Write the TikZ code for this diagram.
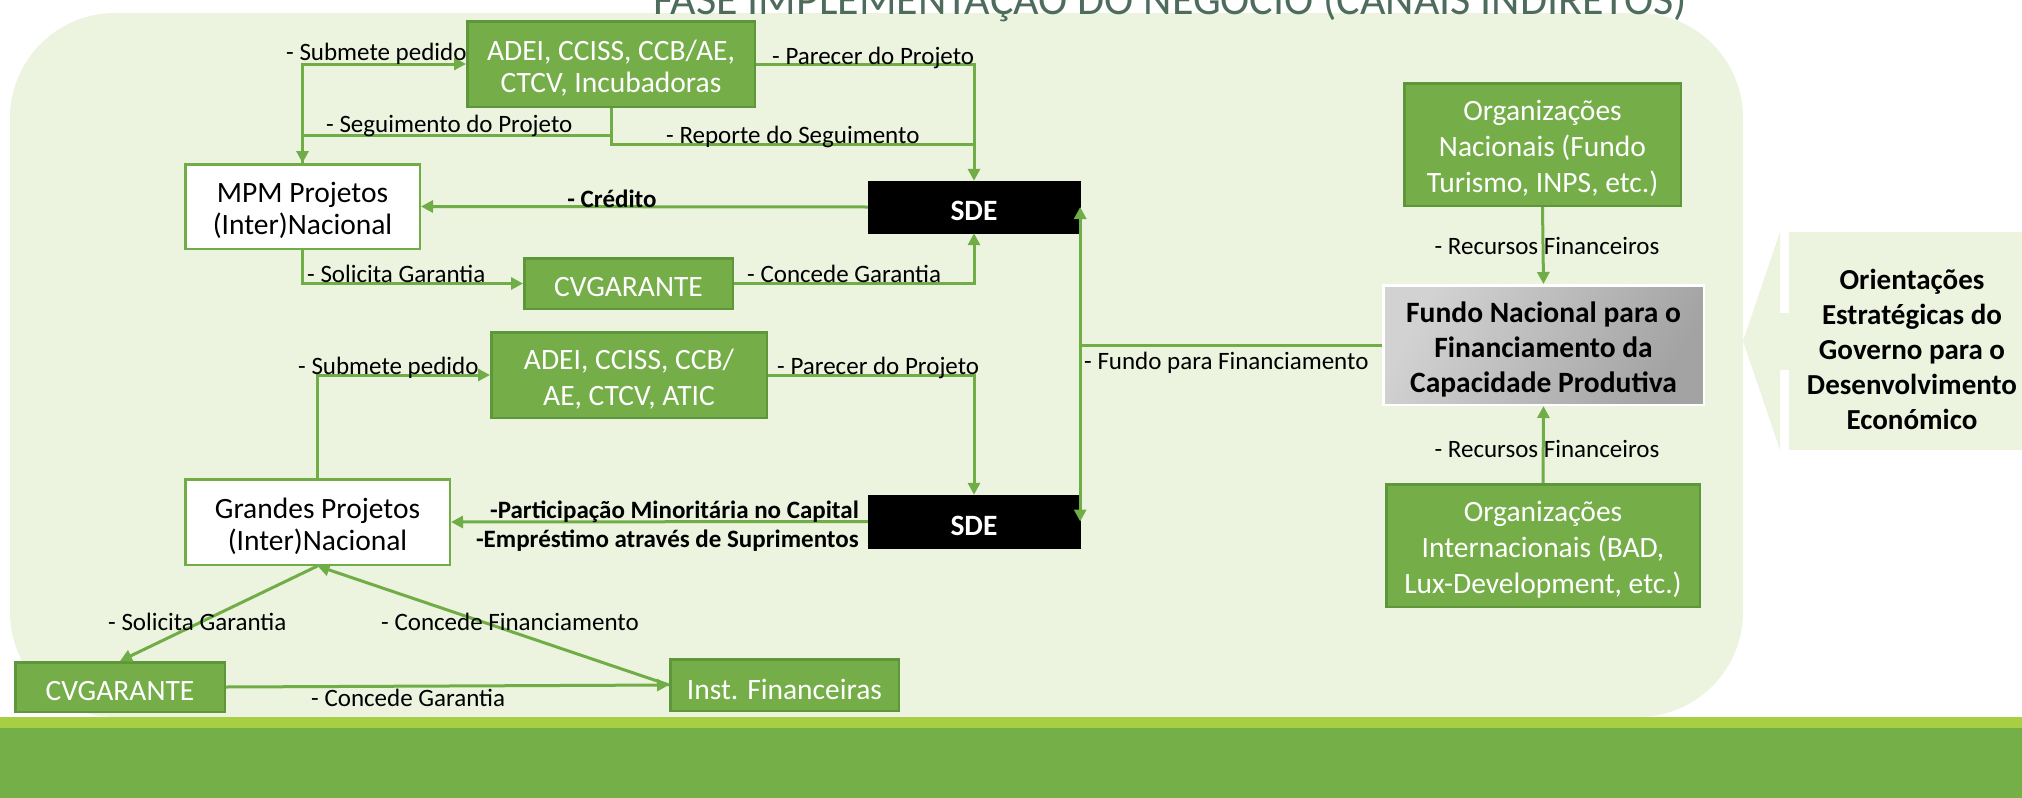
\documentclass[tikz,border=0pt]{standalone}
\usepackage{fontspec}
\setmainfont{Carlito}
\usetikzlibrary{arrows.meta,calc}
\definecolor{bggreen}{RGB}{236,243,223}
\definecolor{boxgreen}{RGB}{117,174,72}
\definecolor{boxedge}{RGB}{94,150,58}
\definecolor{linegreen}{RGB}{112,173,71}
\definecolor{titlecol}{RGB}{78,108,92}
\definecolor{limeband}{RGB}{168,206,68}
\definecolor{bandgreen}{RGB}{116,175,72}
\definecolor{graylight}{RGB}{210,210,210}
\definecolor{graydark}{RGB}{163,163,163}
\newcommand{\lowr}[1]{\raisebox{-4pt}[\height][\depth]{#1}}
\begin{document}
\begin{tikzpicture}[x=1pt,y=-1pt,
  gbox/.style={draw=boxedge, fill=boxgreen, line width=2.5pt, text=white, align=center, inner sep=0pt, font=\fontsize{29.5}{36}\selectfont},
  wbox/.style={draw=linegreen, fill=white, line width=2.5pt, align=center, inner sep=0pt, font=\fontsize{29.5}{32}\selectfont},
  kbox/.style={draw=black, fill=black, text=white, inner sep=0pt, font=\bfseries\fontsize{29.5}{36}\selectfont},
  conn/.style={draw=linegreen, line width=3pt},
  arr/.style={conn, -{Triangle[length=12pt,width=12pt]}},
  lbl/.style={inner sep=0pt, font=\fontsize{25}{30}\selectfont},
  blbl/.style={inner sep=0pt, font=\bfseries\fontsize{25}{30}\selectfont},
]
\useasboundingbox (0,0) rectangle (2022,798);
% background
\fill[bggreen, rounded corners=105pt] (10,13) rectangle (1743,717);
\fill[limeband] (0,717) rectangle (2022,728);
\fill[bandgreen] (0,728) rectangle (2022,798);
% title
\node[anchor=base, inner sep=0pt, text=titlecol, font=\fontsize{44}{50}\selectfont] (title) at (1170,14) {FASE IMPLEMENTAÇÃO DO NEGÓCIO (CANAIS INDIRETOS)};
% callout
\fill[bggreen] (1780,232) -- (1743,341) -- (1780,450) -- cycle;
\fill[bggreen] (1778,313) rectangle (1790,370);
\fill[bggreen] (1789,232) rectangle (2022,450);
\node[align=center, inner sep=0pt, font=\bfseries\fontsize{29}{35}\selectfont] (orient) at (1912,345) {\lowr{Orientações}\\\lowr{Estratégicas do}\\\lowr{Governo para o}\\\lowr{Desenvolvimento}\\\lowr{Económico}};

% nodes
\node[gbox, font=\fontsize{29.5}{32}\selectfont, minimum width=287.5pt, minimum height=85.5pt] (adeiA) at (611,64) {\lowr{ADEI, CCISS, CCB/AE,}\\\lowr{CTCV, Incubadoras}};
\node[wbox, minimum width=234.5pt, minimum height=84.5pt] (mpm) at (302.5,206.5) {\lowr{MPM Projetos}\\\lowr{(Inter)Nacional}};
\node[kbox, minimum width=212pt, minimum height=52pt] (sdeA) at (974,207) {\lowr{SDE}};
\node[gbox, minimum width=208.5pt, minimum height=50.5pt] (cvgA) at (628.5,283.5) {\lowr{CVGARANTE}};
\node[gbox, minimum width=275.5pt, minimum height=85.5pt] (adeiB) at (629,375) {\lowr{ADEI, CCISS, CCB/}\\\lowr{AE, CTCV, ATIC}};
\node[wbox, minimum width=264.5pt, minimum height=85.5pt] (grandes) at (317.5,522) {\lowr{Grandes Projetos}\\\lowr{(Inter)Nacional}};
\node[kbox, minimum width=212pt, minimum height=53pt] (sdeB) at (974,521.5) {\lowr{SDE}};
\node[gbox, minimum width=209.5pt, minimum height=49.5pt] (cvgB) at (120,687) {\lowr{CVGARANTE}};
\node[gbox, minimum width=228.5pt, minimum height=51.5pt] (inst) at (784.5,685) {\lowr{Inst. Financeiras}};
\node[gbox, minimum width=276.5pt, minimum height=122.5pt] (orgN) at (1542.5,144.5) {\lowr{Organizações}\\\lowr{Nacionais (Fundo}\\\lowr{Turismo, INPS, etc.)}};
\node[draw=white, line width=2.5pt, shading angle=135, top color=graylight, bottom color=graydark, shading angle=60, align=center, inner sep=0pt, font=\bfseries\fontsize{29.5}{35}\selectfont, minimum width=320.5pt, minimum height=119.5pt] (fundo) at (1543.5,345) {\lowr{Fundo Nacional para o}\\\lowr{Financiamento da}\\\lowr{Capacidade Produtiva}};
\node[gbox, minimum width=313.5pt, minimum height=122.5pt] (orgI) at (1543,545.5) {\lowr{Organizações}\\\lowr{Internacionais (BAD,}\\\lowr{Lux-Development, etc.)}};

% connectors
\coordinate (rep) at (974,144);
\draw[arr] (mpm.north) |- (adeiA.west);
\draw[arr] (adeiA.south) -- ++(0,27) -| (mpm.north);
\draw[conn] (adeiA.south) |- (rep);
\draw[arr] (adeiA.east) -| (sdeA.north);
\draw[arr] (sdeA.west) -- (mpm.east);
\draw[arr] (mpm.south) |- (cvgA.west);
\draw[arr] (cvgA.east) -| (sdeA.south);
\draw[arr] (fundo.west) -| (sdeA.east);
\draw[arr] (fundo.west) -| (sdeB.east);
\draw[arr] (grandes.north) |- (adeiB.west);
\draw[arr] (adeiB.east) -| (sdeB.north);
\draw[arr] (sdeB.west) -- (grandes.east);
\draw[arr] (grandes.south) -- (cvgB.north);
\draw[arr] (inst.west) -- (grandes.south);
\draw[arr] (cvgB.east) -- (inst.west);
\draw[arr] (orgN.south) -- (fundo.north);
\draw[arr] (orgI.north) -- (fundo.south);

% labels
\node[lbl, anchor=mid west] (l1) at (286,58) {- Submete pedido};
\node[lbl, anchor=mid west] (l2) at (326,130) {- Seguimento do Projeto};
\node[lbl, anchor=mid west] (l3) at (772,62) {- Parecer do Projeto};
\node[lbl, anchor=mid west] (l4) at (666,141) {- Reporte do Seguimento};
\node[blbl, anchor=mid] (l5) at (612,205) {- Crédito};
\node[lbl, anchor=mid west] (l6) at (307,280) {- Solicita Garantia};
\node[lbl, anchor=mid west] (l7) at (747,280) {- Concede Garantia};
\node[lbl, anchor=mid west] (l8) at (1084,367) {- Fundo para Financiamento};
\node[lbl, anchor=mid west] (l9) at (298,372) {- Submete pedido};
\node[lbl, anchor=mid west] (l10) at (777,372) {- Parecer do Projeto};
\node[blbl, anchor=mid east] (l11) at (859,516) {-Participação Minoritária no Capital};
\node[blbl, anchor=mid east] (l12) at (859,545) {-Empréstimo através de Suprimentos};
\node[lbl, anchor=mid west] (l13) at (108,628) {- Solicita Garantia};
\node[lbl, anchor=mid west] (l14) at (381,628) {- Concede Financiamento};
\node[lbl, anchor=mid west] (l15) at (311,704) {- Concede Garantia};
\node[lbl, anchor=mid] (l16) at (1547,252) {- Recursos Financeiros};
\node[lbl, anchor=mid] (l17) at (1547,455) {- Recursos Financeiros};
\end{tikzpicture}
\end{document}
